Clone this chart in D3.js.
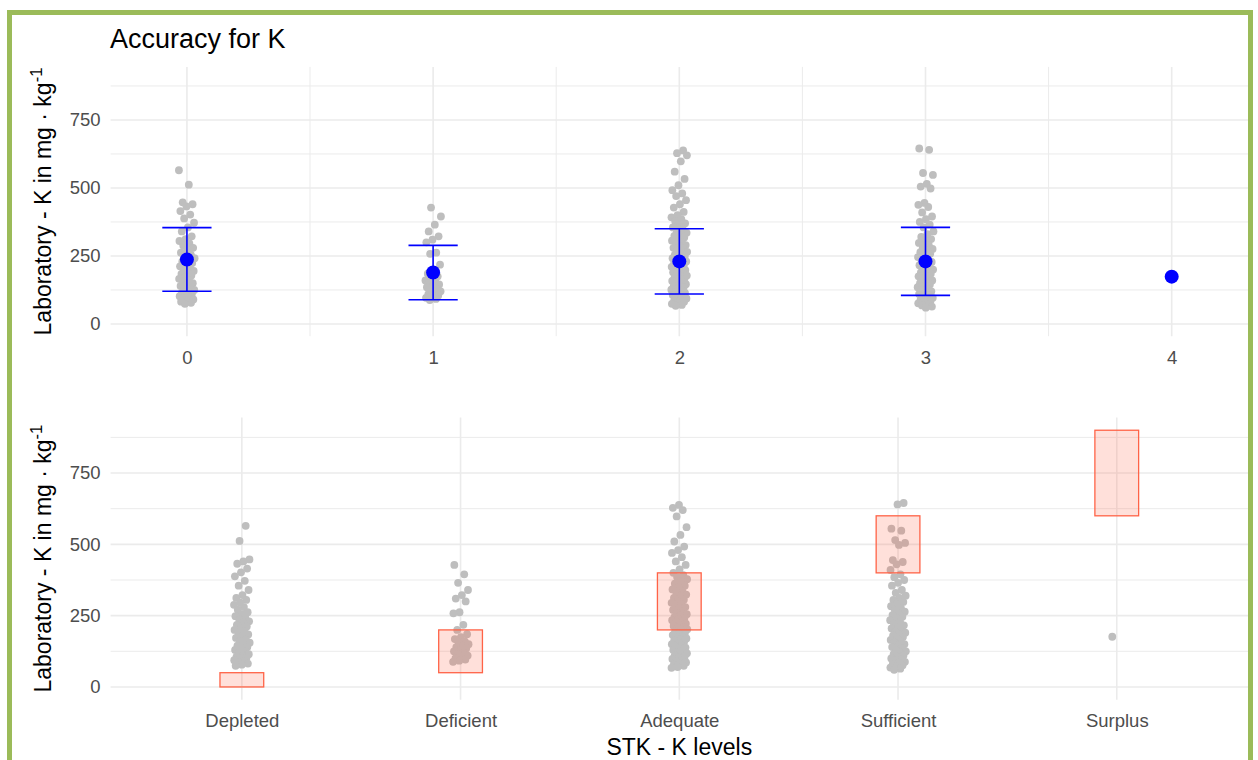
<!DOCTYPE html>
<html>
<head>
<meta charset="utf-8">
<script src="https://cdn.jsdelivr.net/npm/d3@7"></script>
<style>
  html, body { margin: 0; padding: 0; background: #ffffff; }
  svg { display: block; font-family: "Liberation Sans", Arial, sans-serif; }
</style>
</head>
<body>
<svg id="chart" width="1258" height="760"></svg>
<script>
// STK - K level categories and their numeric codes
const categories = ["Depleted", "Deficient", "Adequate", "Sufficient", "Surplus"];
const levelCodes = [0, 1, 2, 3, 4];

// Laboratory K (mg/kg) for the samples in each STK level
const depleted = [565, 512, 447, 440, 432, 415, 402, 388, 372, 355, 340, 322, 312, 305, 296, 288, 280, 271,
  262, 255, 248, 242, 236, 230, 224, 218, 212, 206, 200, 195, 190, 184, 178, 172, 166, 160, 155, 150, 145,
  140, 135, 130, 125, 120, 115, 111, 106, 102, 98, 94, 90, 86, 82, 78, 74];
const deficient = [428, 395, 365, 340, 322, 310, 300, 262, 258, 218, 200, 185, 175, 168, 160, 155, 150, 145,
  140, 135, 130, 125, 120, 115, 110, 105, 100, 96, 92, 88];
const adequate = [638, 628, 620, 598, 560, 533, 510, 492, 480, 470, 455, 440, 428, 412, 400, 392, 385, 378,
  370, 362, 355, 348, 342, 335, 330, 324, 318, 312, 306, 300, 295, 290, 285, 280, 275, 270, 265, 260, 255,
  250, 246, 242, 238, 234, 230, 226, 222, 218, 214, 210, 206, 202, 198, 194, 190, 186, 182, 178, 174, 170,
  166, 162, 158, 154, 150, 146, 142, 138, 134, 130, 126, 122, 118, 114, 110, 106, 102, 98, 94, 90, 86, 82,
  78, 74, 70, 67];
const sufficient = [645, 640, 555, 548, 515, 505, 498, 445, 438, 430, 410, 395, 385, 375, 365, 355, 340, 330,
  320, 312, 305, 298, 290, 283, 276, 270, 264, 258, 252, 246, 240, 234, 228, 222, 216, 210, 205, 200, 195,
  190, 185, 180, 175, 170, 165, 160, 155, 150, 145, 140, 135, 130, 125, 120, 115, 110, 105, 100, 96, 92, 88,
  84, 80, 76, 72, 68, 64, 60];
const surplus = [176];
const labValues = [depleted, deficient, adequate, sufficient, surplus];

// Mean and standard deviation per level (no spread for a single sample)
const meanK = [237, 189, 230, 230, 174];
const sdK = [117, 100, 120, 125, null];

// Target K range of each STK level
const rangeLow = [0, 50, 200, 400, 600];
const rangeHigh = [50, 200, 400, 600, 900];

const yTicks = [0, 250, 500, 750];
const yMinor = [125, 375, 625, 875];
const xMinorTop = [0.5, 1.5, 2.5, 3.5];

const svg = d3.select("#chart");

// frame around the figure
svg.append("rect")
  .attr("x", 9.5).attr("y", 12.5).attr("width", 1241).attr("height", 760)
  .attr("fill", "none").attr("stroke", "#9bbb59").attr("stroke-width", 5);

const left = 110.6, right = 1248;
const gridCol = "#ebebeb", tickCol = "#4d4d4d";
const tickFont = 18.5, axisFont = 23;
const ptR = 3.9;

// deterministic horizontal spread for overlapping samples
function spread(c, j) {
  const f = (j * 0.6180339887 + c * 0.37) % 1;
  return f - 0.5;
}

function drawYGrid(g, y) {
  g.selectAll(".ymin").data(yMinor).join("line")
    .attr("x1", left).attr("x2", right)
    .attr("y1", d => y(d)).attr("y2", d => y(d))
    .attr("stroke", gridCol).attr("stroke-width", 1);
  g.selectAll(".ymaj").data(yTicks).join("line")
    .attr("x1", left).attr("x2", right)
    .attr("y1", d => y(d)).attr("y2", d => y(d))
    .attr("stroke", gridCol).attr("stroke-width", 1.6);
}

function drawYAxis(g, y, top, bottom) {
  const ax = g.append("g").attr("transform", `translate(${left},0)`)
    .call(d3.axisLeft(y).tickValues(yTicks).tickSize(0).tickPadding(10).tickFormat(d3.format("d")));
  ax.select(".domain").remove();
  ax.selectAll("text").attr("fill", tickCol).attr("font-size", tickFont)
    .attr("font-family", "'Liberation Sans', Arial, sans-serif");
  const cy = (top + bottom) / 2;
  const t = g.append("text")
    .attr("transform", `translate(51,${cy}) rotate(-90)`)
    .attr("text-anchor", "middle")
    .attr("font-size", axisFont).attr("fill", "#000");
  t.append("tspan").text("Laboratory - K in mg \u00b7 kg");
  t.append("tspan").attr("dy", -9).attr("font-size", axisFont * 0.72).text("-1");
}

// ---------- top panel: levels coded 0..4 with mean ± sd ----------
const top1 = 66.9, bot1 = 336.2;
const xTop = d3.scaleLinear().domain([-0.31, 4.31]).range([left, right]);
const yTop = d3.scaleLinear().domain([-45, 945]).range([bot1, top1]);
const gTop = svg.append("g");

drawYGrid(gTop, yTop);
gTop.selectAll(".xmin").data(xMinorTop).join("line")
  .attr("x1", d => xTop(d)).attr("x2", d => xTop(d))
  .attr("y1", top1).attr("y2", bot1)
  .attr("stroke", gridCol).attr("stroke-width", 1);
gTop.selectAll(".xmaj").data(levelCodes).join("line")
  .attr("x1", d => xTop(d)).attr("x2", d => xTop(d))
  .attr("y1", top1).attr("y2", bot1)
  .attr("stroke", gridCol).attr("stroke-width", 1.6);

drawYAxis(gTop, yTop, top1, bot1);
const axTop = gTop.append("g").attr("transform", `translate(0,${bot1})`)
  .call(d3.axisBottom(xTop).tickValues(levelCodes).tickSize(0).tickPadding(15).tickFormat(d3.format("d")));
axTop.select(".domain").remove();
axTop.selectAll("text").attr("fill", tickCol).attr("font-size", tickFont)
  .attr("font-family", "'Liberation Sans', Arial, sans-serif");

levelCodes.forEach((code, c) => {
  gTop.append("g").selectAll("circle").data(labValues[c]).join("circle")
    .attr("cx", (d, j) => xTop(code) + spread(c, j) * 16)
    .attr("cy", d => yTop(d))
    .attr("r", ptR).attr("fill", "#bebebe");
});

const capHalf = 0.1;
levelCodes.forEach((code, c) => {
  if (sdK[c] == null) return;
  const lo = meanK[c] - sdK[c], hi = meanK[c] + sdK[c];
  const eb = gTop.append("g").attr("stroke", "#0000ff").attr("stroke-width", 1.6);
  eb.append("line").attr("x1", xTop(code)).attr("x2", xTop(code)).attr("y1", yTop(lo)).attr("y2", yTop(hi));
  eb.append("line").attr("x1", xTop(code - capHalf)).attr("x2", xTop(code + capHalf)).attr("y1", yTop(lo)).attr("y2", yTop(lo));
  eb.append("line").attr("x1", xTop(code - capHalf)).attr("x2", xTop(code + capHalf)).attr("y1", yTop(hi)).attr("y2", yTop(hi));
});
gTop.append("g").selectAll("circle").data(levelCodes).join("circle")
  .attr("cx", d => xTop(d)).attr("cy", (d, i) => yTop(meanK[i]))
  .attr("r", 7).attr("fill", "#0000ff");

svg.append("text").attr("x", 110).attr("y", 48)
  .attr("font-size", 27).attr("fill", "#000").text("Accuracy for K");

// ---------- bottom panel: named levels with target ranges ----------
const top2 = 417.4, bot2 = 699.8;
const xBot = d3.scalePoint().domain(categories).range([left, right]).padding(0.6);
const yBot = d3.scaleLinear().domain([-45, 945]).range([bot2, top2]);
const gBot = svg.append("g");

drawYGrid(gBot, yBot);
gBot.selectAll(".xmaj").data(categories).join("line")
  .attr("x1", d => xBot(d)).attr("x2", d => xBot(d))
  .attr("y1", top2).attr("y2", bot2)
  .attr("stroke", gridCol).attr("stroke-width", 1.6);

drawYAxis(gBot, yBot, top2, bot2);
const axBot = gBot.append("g").attr("transform", `translate(0,${bot2})`)
  .call(d3.axisBottom(xBot).tickSize(0).tickPadding(14));
axBot.select(".domain").remove();
axBot.selectAll("text").attr("fill", tickCol).attr("font-size", tickFont)
  .attr("font-family", "'Liberation Sans', Arial, sans-serif");

categories.forEach((cat, c) => {
  gBot.append("g").selectAll("circle").data(labValues[c]).join("circle")
    .attr("cx", (d, j) => xBot(cat) + spread(c + 2, j) * 16)
    .attr("cy", d => yBot(d))
    .attr("r", ptR).attr("fill", "#bebebe");
});

const step = xBot.step();
gBot.append("g").selectAll("rect").data(categories).join("rect")
  .attr("x", d => xBot(d) - 0.1 * step)
  .attr("width", 0.2 * step)
  .attr("y", (d, i) => yBot(rangeHigh[i]))
  .attr("height", (d, i) => yBot(rangeLow[i]) - yBot(rangeHigh[i]))
  .attr("fill", "rgba(255,99,71,0.2)")
  .attr("stroke", "#ff6347").attr("stroke-width", 1.3);

svg.append("text").attr("x", (left + right) / 2).attr("y", 755)
  .attr("text-anchor", "middle").attr("font-size", axisFont).attr("fill", "#000")
  .text("STK - K levels");
</script>
</body>
</html>
